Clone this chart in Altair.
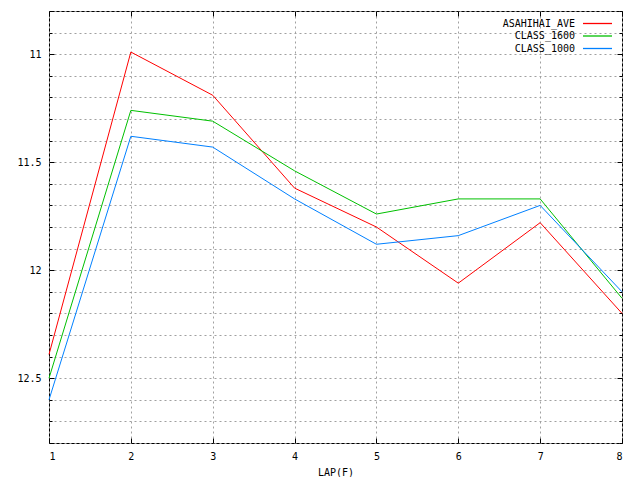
import pandas as pd
import altair as alt

# lap numbers and lap times
laps = [1, 2, 3, 4, 5, 6, 7, 8]
asahihai_ave = [12.39, 10.99, 11.19, 11.62, 11.80, 12.06, 11.78, 12.20]
class_1600 = [12.50, 11.26, 11.31, 11.54, 11.74, 11.67, 11.67, 12.13]
class_1000 = [12.60, 11.38, 11.43, 11.67, 11.88, 11.84, 11.70, 12.10]

series_names = ['ASAHIHAI_AVE', 'CLASS_1600', 'CLASS_1000']
series_colors = ['#ff0000', '#00c000', '#0080ff']

# y ticks: every 0.1 (grid + minor ticks), labelled every 0.5
y_ticks = [10.8, 10.9, 11.0, 11.1, 11.2, 11.3, 11.4, 11.5, 11.6, 11.7, 11.8,
           11.9, 12.0, 12.1, 12.2, 12.3, 12.4, 12.5, 12.6, 12.7, 12.8]
x_ticks = [1, 2, 3, 4, 5, 6, 7, 8]

df = pd.concat([
    pd.DataFrame({'lap': laps, 'time': vals, 'series': name})
    for name, vals in zip(series_names, [asahihai_ave, class_1600, class_1000])
])

FONT = 'DejaVu Sans Mono'
W, H = 573, 432
GRID = '#a0a0a0'

xscale = alt.Scale(domain=[1, 8], nice=False, zero=False)
yscale = alt.Scale(domain=[10.8, 12.8], nice=False, zero=False, reverse=True)

half_test = 'abs(datum.value * 2 - round(datum.value * 2)) < 0.001'
tick_size = {'condition': {'test': half_test, 'value': 5}, 'value': 3}

# main layer: lines, labels, grid
lines = alt.Chart(df).mark_line(strokeWidth=1).encode(
    x=alt.X('lap:Q', scale=xscale,
            axis=alt.Axis(orient='bottom', values=x_ticks, format='d', title='LAP(F)',
                          grid=True, gridColor=GRID, gridDash=[2, 3], gridOpacity=1,
                          ticks=False, tickSize=0, domain=False,
                          labelPadding=8, labelFont=FONT, labelFontSize=10, labelColor='black',
                          titleFont=FONT, titleFontSize=10, titleFontWeight='normal',
                          titleColor='black', titlePadding=6)),
    y=alt.Y('time:Q', scale=yscale,
            axis=alt.Axis(orient='left', values=y_ticks, title=None,
                          labelExpr=half_test + ' ? toString(datum.value) : ""',
                          grid=True, gridColor=GRID, gridDash=[2, 3], gridOpacity=1,
                          ticks=False, tickSize=0, domain=False,
                          labelPadding=8, labelFont=FONT, labelFontSize=10, labelColor='black')),
    color=alt.Color('series:N', sort=series_names,
                    scale=alt.Scale(domain=series_names, range=series_colors),
                    legend=alt.Legend(orient='none', legendX=542.5, legendY=6.5, title=None,
                                      symbolType='M-2.9,0H2.9', symbolSize=100,
                                      symbolStrokeWidth=1.3,
                                      labelAlign='right', labelOffset={'expr': '-28.5'},
                                      labelBaseline='middle',
                                      labelFont=FONT, labelFontSize=10, labelColor='black',
                                      rowPadding=1.5, padding=0))
)

# inward ticks on left edge and bottom edge
ticks_lb = alt.Chart(df).mark_line(opacity=0).encode(
    x=alt.X('lap:Q', scale=xscale,
            axis=alt.Axis(orient='top', offset=-H, values=x_ticks, labels=False, title=None,
                          grid=False, domain=False, ticks=True, tickSize=5, tickColor='black')),
    y=alt.Y('time:Q', scale=yscale,
            axis=alt.Axis(orient='right', offset=-W, values=y_ticks, labels=False, title=None,
                          grid=False, domain=False, ticks=True, tickSize=tick_size,
                          tickColor='black'))
)

# inward ticks on right edge and top edge
ticks_rt = alt.Chart(df).mark_line(opacity=0).encode(
    x=alt.X('lap:Q', scale=xscale,
            axis=alt.Axis(orient='bottom', offset=-H, values=x_ticks, labels=False, title=None,
                          grid=False, domain=False, ticks=True, tickSize=5, tickColor='black')),
    y=alt.Y('time:Q', scale=yscale,
            axis=alt.Axis(orient='left', offset=-W, values=y_ticks, labels=False, title=None,
                          grid=False, domain=False, ticks=True, tickSize=tick_size,
                          tickColor='black'))
)

chart = (lines + ticks_lb + ticks_rt).resolve_axis(
    x='independent', y='independent'
).properties(
    width=W, height=H,
    autosize=alt.AutoSizeParams(type='none'),
    padding={'left': 41, 'top': 3, 'right': 10, 'bottom': 34},
    background='white'
).configure_view(
    stroke='black', strokeWidth=1
)

chart.save('out.html', embed_options={'renderer': 'svg', 'actions': False})
